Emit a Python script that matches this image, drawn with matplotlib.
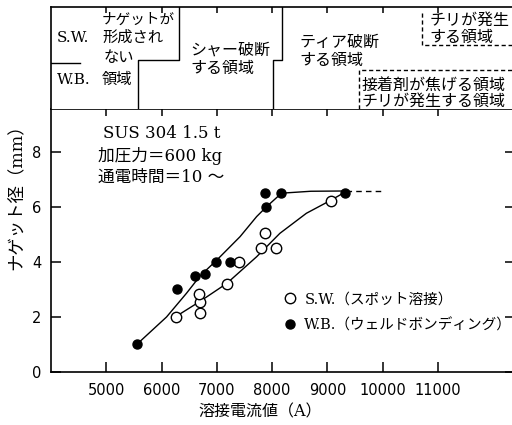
import matplotlib

matplotlib.use("Agg")
import matplotlib.pyplot as plt

JP = ["DejaVu Serif", "Noto Sans CJK JP"]
NUM = ["DejaVu Sans"]
plt.rcParams.update({
    "font.family": JP,
    "axes.linewidth": 1.2,
    "xtick.major.width": 1.1,
    "ytick.major.width": 1.1,
})

# spot welding (open circles)
sw_current = [6270, 6690, 6690, 6680, 7180, 7400, 7790, 7880, 8070, 9060]
sw_nugget = [2.0, 2.15, 2.55, 2.85, 3.2, 4.0, 4.5, 5.05, 4.5, 6.2]
# weld bonding (filled circles)
wb_current = [5550, 6280, 6600, 6790, 6980, 7230, 7870, 7890, 8160, 9320]
wb_nugget = [1.0, 3.0, 3.5, 3.55, 4.0, 4.0, 6.5, 6.0, 6.5, 6.5]

# hand-fitted trend lines
sw_fit_x = [6270, 6690, 7180, 7720, 8140, 8620, 9050, 9330]
sw_fit_y = [2.03, 2.56, 3.22, 4.19, 5.04, 5.77, 6.23, 6.55]
wb_fit_x = [5550, 6090, 6450, 6700, 7000, 7420, 7720, 7900, 8170, 8700, 9330]
wb_fit_y = [1.0, 2.0, 2.86, 3.5, 4.07, 4.92, 5.65, 6.01, 6.5, 6.57, 6.58]
tail_x = [9330, 10000]
tail_y = [6.58, 6.58]

xticks = [5000, 6000, 7000, 8000, 9000, 10000, 11000]
yticks = [0, 2, 4, 6, 8]

# region boundaries along the current axis
sw_nugget_edge = 6320
wb_nugget_edge = 5570
sw_tear_edge = 8170
wb_tear_edge = 8020
sw_expulsion = 10710
wb_adhesive = 9570

XMIN, XMAX = 4000, 12330

fig = plt.figure(figsize=(5.12, 4.25), dpi=100)
ax = fig.add_axes([51 / 512, 53 / 425, 460.5 / 512, 263 / 425])
top = fig.add_axes([51 / 512, 316 / 425, 460.5 / 512, 102 / 425])

# ---- main chart ----
ax.plot(wb_fit_x, wb_fit_y, color="black", lw=1.0, zorder=2)
ax.plot(sw_fit_x, sw_fit_y, color="black", lw=1.0, zorder=2)
ax.plot(tail_x, tail_y, color="black", lw=1.0, ls=(0, (4, 3)), zorder=2)
ax.plot(sw_current, sw_nugget, "o", ms=7.5, mfc="white", mec="black", mew=1.0,
        ls="none", zorder=3, label="S.W.（スポット溶接）")
ax.plot(wb_current, wb_nugget, "o", ms=6.5, mfc="black", mec="black",
        ls="none", zorder=3, label="W.B.（ウェルドボンディング）")

ax.set_xlim(XMIN, XMAX)
ax.set_ylim(0, 9.56)
ax.set_xticks(xticks)
ax.set_yticks(yticks)
ax.set_xticklabels([str(v) for v in xticks], family=NUM, fontsize=10.5)
ax.set_yticklabels([str(v) for v in yticks], family=NUM, fontsize=10.5)
ax.tick_params(axis="x", direction="in", length=7, pad=8)
ax.tick_params(axis="y", direction="in", length=7, pad=7)
ax.tick_params(top=True, right=True)
for t in ax.xaxis.get_major_ticks():
    t.tick2line.set_markersize(5)
for t in ax.yaxis.get_major_ticks():
    t.tick2line.set_markersize(5)
ax.spines["right"].set_visible(False)

ax.set_xlabel("溶接電流値（A）", fontsize=11.5)
ax.xaxis.set_label_coords(0.455, -0.118)
ax.set_ylabel("ナゲット径（mm）", fontsize=12.5)
ax.yaxis.set_label_coords(-0.056, 0.68)

ax.text(0.112, 0.905, "SUS 304 1.5 t", transform=ax.transAxes, fontsize=12,
        va="center")
ax.text(0.102, 0.82, "加圧力＝600 kg", transform=ax.transAxes, fontsize=12,
        va="center")
ax.text(0.102, 0.74, "通電時間＝10 〜", transform=ax.transAxes, fontsize=12,
        va="center")

ax.legend(loc="upper left", bbox_to_anchor=(0.49, 0.33), frameon=False,
          handlelength=0.9, handletextpad=0.5, labelspacing=0.8, borderpad=0,
          prop={"size": 10.5})

# ---- fracture-mode strip above the chart ----
top.set_xlim(XMIN, XMAX)
top.set_ylim(0, 1)
top.set_xticks(xticks)
top.tick_params(axis="x", direction="in", bottom=False, top=True, length=4,
                labelbottom=False)
top.set_yticks([])
top.spines["right"].set_visible(False)
top.spines["bottom"].set_visible(False)

k = dict(color="black", lw=1.0)
dash = dict(color="black", lw=1.0, ls=(0, (3, 2)))
split = 0.48
top.plot([XMIN, 4524], [0.45, 0.45], **k)
top.plot([sw_nugget_edge, sw_nugget_edge, wb_nugget_edge, wb_nugget_edge],
         [1, split, split, 0], **k)
top.plot([sw_tear_edge, sw_tear_edge, wb_tear_edge, wb_tear_edge],
         [1, split, split, 0], **k)
top.plot([sw_expulsion, sw_expulsion, XMAX], [0.94, 0.627, 0.627], **dash)
top.plot([wb_adhesive, wb_adhesive, XMAX], [0, 0.382, 0.382], **dash)

labels = [
    (4108, 0.696, "S.W.", 11),
    (4922, 0.873, "ナゲットが", 10.5),
    (4922, 0.696, "形成され", 11),
    (4960, 0.50, "ない", 11),
    (4108, 0.284, "W.B.", 11),
    (4922, 0.284, "領域", 11),
    (6514, 0.578, "シャー破断", 11.5),
    (6514, 0.402, "する領域", 11.5),
    (8503, 0.657, "ティア破断", 11.5),
    (8503, 0.48, "する領域", 11.5),
    (10854, 0.873, "チリが発生", 11.5),
    (10854, 0.70, "する領域", 11.5),
    (9624, 0.235, "接着剤が焦げる領域", 11.5),
    (9624, 0.078, "チリが発生する領域", 11.5),
]
for x, y, s, fs in labels:
    top.text(x, y, s, fontsize=fs, va="center", ha="left")

fig.savefig("out.png", dpi=100)
